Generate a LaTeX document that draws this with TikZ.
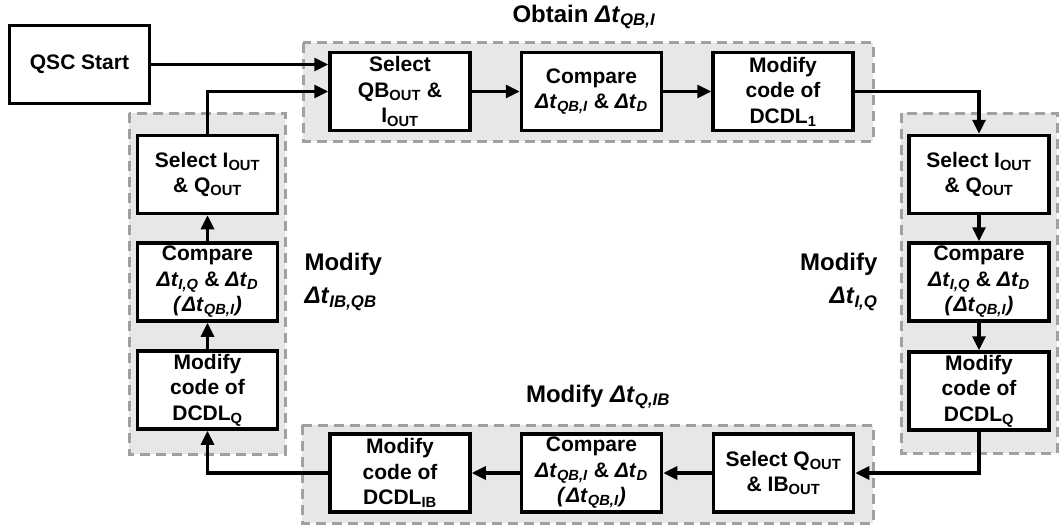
\documentclass[tikz,border=0pt]{standalone}
\usepackage{fontspec}
\setmainfont{Liberation Sans}
\usetikzlibrary{arrows.meta,positioning,calc}
\definecolor{grpfill}{RGB}{231,231,231}
\definecolor{grpline}{RGB}{160,160,160}
\newcommand{\dt}[1]{\textbf{\textit{Δt}\textsubscript{\textit{#1}}}}
\newcommand{\lo}[1]{\textsubscript{#1}}
\newcommand{\pdt}[1]{\textit{(}\dt{#1}\textit{)}}

\begin{document}
\begin{tikzpicture}[x=1pt, y=-1pt,
    box/.style={draw, line width=3.5pt, fill=white, minimum width=140pt, minimum height=78pt,
                inner sep=0pt, align=center, font=\fontsize{21}{25.5}\selectfont\bfseries},
    group/.style={draw=grpline, fill=grpfill, line width=3pt, dash pattern=on 10pt off 6pt},
    flow/.style={-{Triangle[length=14pt,width=13pt]}, line width=3.2pt},
    lbl/.style={font=\fontsize{24}{33}\selectfont\bfseries}]
    \useasboundingbox (0,0) rectangle (1060,527);

    % Dashed groups
    \draw[group] (303,43) rectangle (873,141);
    \draw[group] (129,113) rectangle (285,454);
    \draw[group] (901,113) rectangle (1057,453);
    \draw[group] (302,425) rectangle (873,523);

    % Start
    \node[box] (start) at (79.5,64.5) {QSC Start};

    % Top row: obtain
    \node[box] (sel1) at (400,91.5) {Select\\QB\lo{OUT} \&\\I\lo{OUT}};
    \node[box] (cmp1) at (591.5,91.5) {Compare\\\dt{QB,I} \& \dt{D}};
    \node[box] (mod1) at (783,91.5) {Modify\\code of\\DCDL\lo{1}};

    % Right column
    \node[box] (rsel) at (979,174.5) {Select I\lo{OUT}\\\& Q\lo{OUT}};
    \node[box] (rcmp) at (979,282) {Compare\\\dt{I,Q} \& \dt{D}\\\pdt{QB,I}};
    \node[box] (rmod) at (979,391) {Modify\\code of\\DCDL\lo{Q}};

    % Bottom row
    \node[box] (bsel) at (783.5,473) {Select Q\lo{OUT}\\\& IB\lo{OUT}};
    \node[box] (bcmp) at (591.5,473) {Compare\\\dt{QB,I} \& \dt{D}\\\pdt{QB,I}};
    \node[box] (bmod) at (400,473) {Modify\\code of\\DCDL\lo{IB}};

    % Left column
    \node[box] (lmod) at (207.5,390) {Modify\\code of\\DCDL\lo{Q}};
    \node[box] (lcmp) at (207.5,282) {Compare\\\dt{I,Q} \& \dt{D}\\\pdt{QB,I}};
    \node[box] (lsel) at (207.5,174.5) {Select I\lo{OUT}\\\& Q\lo{OUT}};

    % Labels
    \node[lbl] (tobt) at (584,17) {Obtain \dt{QB,I}};
    \node[lbl] (tqib) at (598,397) {Modify \dt{Q,IB}};
    \node[lbl, anchor=west, align=left] (tibqb) at (301,282) {Modify\\\dt{IB,QB}};
    \node[lbl, anchor=east, align=right] (tiq) at (881,282) {Modify\\\dt{I,Q}};

    % Connectors
    \draw[flow] (start.east) -- (start.east -| sel1.west);
    \draw[flow] (lsel.north) |- (sel1.west);
    \draw[flow] (sel1) -- (cmp1);
    \draw[flow] (cmp1) -- (mod1);
    \draw[flow] (mod1.east) -| (rsel.north);
    \draw[flow] (rsel) -- (rcmp);
    \draw[flow] (rcmp) -- (rmod);
    \draw[flow] (rmod.south) |- (bsel.east);
    \draw[flow] (bsel) -- (bcmp);
    \draw[flow] (bcmp) -- (bmod);
    \draw[flow] (bmod.west) -| (lmod.south);
    \draw[flow] (lmod) -- (lcmp);
    \draw[flow] (lcmp) -- (lsel);
\end{tikzpicture}
\end{document}
